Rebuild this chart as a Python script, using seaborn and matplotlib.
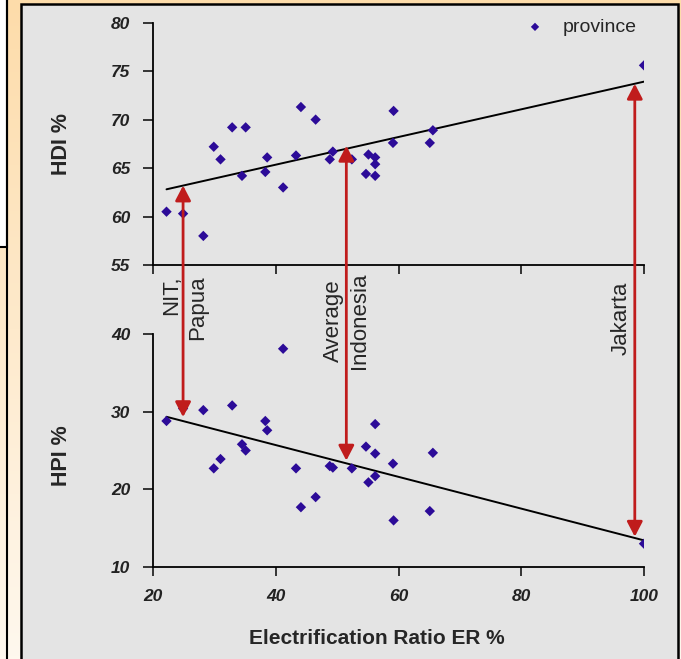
import numpy as np
import pandas as pd
import seaborn as sns
import matplotlib.pyplot as plt
import matplotlib.transforms as mtransforms
from matplotlib.patches import Rectangle, ConnectionPatch
from matplotlib.colors import LinearSegmentedColormap

# electrification ratio per province, HDI and HPI
er = [22.2, 24.9, 28.2, 29.9, 31.0, 32.9, 35.1, 34.5, 38.3, 38.6, 41.2, 43.3, 44.1, 46.5,
      48.8, 49.3, 52.4, 55.1, 56.2, 56.2, 54.7, 56.2, 59.2, 59.1, 65.6, 65.1, 100.0]
hdi = [60.5, 60.3, 58.0, 67.2, 65.9, 69.2, 69.2, 64.2, 64.6, 66.1, 63.0, 66.3, 71.3, 70.0,
       65.9, 66.7, 65.9, 66.4, 66.1, 65.4, 64.4, 64.2, 70.9, 67.6, 68.9, 67.6, 75.6]
hpi = [28.8, 30.4, 30.2, 22.7, 23.9, 30.8, 25.0, 25.8, 28.8, 27.6, 38.1, 22.7, 17.7, 19.0,
       23.0, 22.8, 22.7, 20.9, 28.4, 24.6, 25.5, 21.7, 16.0, 23.3, 24.7, 17.2, 13.0]

# annotated provinces (arrows go from HDI trend to HPI trend)
arrow_er = [24.9, 51.5, 98.5]
arrow_hdi = [63.2, 67.3, 73.7]
arrow_hpi = [29.3, 23.7, 13.9]
arrow_text = ["NIT,\nPapua", "Average\nIndonesia", "Jakarta"]
arrow_text_er = [25.2, 51.5, 96.3]
arrow_text_y = [1.114, 1.056, 1.069]

x_ticks = [20, 40, 60, 80, 100]
hdi_ticks = [55, 60, 65, 70, 75, 80]
hpi_ticks = [10, 20, 30, 40]

df = pd.DataFrame({"ER": er, "HDI": hdi, "HPI": hpi})

sns.set_style("ticks")
plt.rcParams['font.family'] = ['Liberation Sans', 'DejaVu Sans']

W, H = 681, 659
fig = plt.figure(figsize=(W / 100, H / 100), dpi=100)

# slide background: cream gradient, grey chart panel with black frame
bg = fig.add_axes([0, 0, 1, 1], zorder=-10)
cream = LinearSegmentedColormap.from_list("cream", ["#fddcaa", "#fff8ee"])
bg.imshow(np.linspace(0, 1, 200).reshape(-1, 1), cmap=cream, aspect='auto',
          extent=[0, W, H, 0])
bg.add_patch(Rectangle((-5, -5), 12, 252, fc='white', ec='black', lw=1.5))
bg.plot([7, 7], [0, H], color='black', lw=1.5)
bg.add_patch(Rectangle((21, 4), 657, 665, fc='#e4e4e4', ec='black', lw=1.8))
bg.set_xlim(0, W)
bg.set_ylim(H, 0)
bg.axis('off')

ax1 = fig.add_axes([153 / W, 1 - 265 / H, 491 / W, 242.3 / H])
ax2 = fig.add_axes([153 / W, 1 - 567 / H, 491 / W, 233 / H])

pt_color = "#2c0b98"
for ax, col, lims, ticks in ((ax1, "HDI", (55, 80), hdi_ticks), (ax2, "HPI", (10, 40), hpi_ticks)):
    ax.set_facecolor('none')
    sns.scatterplot(data=df, x="ER", y=col, ax=ax, marker='D', s=28, color=pt_color,
                    edgecolor='none', label="province" if col == "HDI" else None, zorder=3)
    sns.regplot(data=df, x="ER", y=col, ax=ax, scatter=False, ci=None, truncate=True,
                line_kws=dict(color='black', lw=1.4, zorder=2))
    ax.set_xlim(20, 100)
    ax.set_ylim(*lims)
    ax.set_xticks(x_ticks)
    ax.set_yticks(ticks)
    sns.despine(ax=ax)
    for s in ("left", "bottom"):
        ax.spines[s].set_linewidth(1.3)
        ax.spines[s].set_color('black')
    ax.tick_params(axis='y', direction='out', length=7.5, width=1.3, pad=9, labelsize=12.5)
    ax.tick_params(axis='x', direction='out', length=6.5, width=1.3, pad=9, labelsize=12.5)
    for lbl in ax.get_xticklabels() + ax.get_yticklabels():
        lbl.set_fontweight('bold')
        lbl.set_fontstyle('italic')
        lbl.set_color('#222222')

ax1.tick_params(labelbottom=False)
ax1.set_xlabel("")
ax1.set_ylabel("HDI %", fontsize=15.5, fontweight='bold')
ax2.set_ylabel("HPI %", fontsize=15.5, fontweight='bold')
ax1.yaxis.set_label_coords(-0.165, 0.5)
ax2.yaxis.set_label_coords(-0.165, 0.48)
ax2.set_xlabel("Electrification Ratio ER %", fontsize=15, fontweight='bold')
ax2.xaxis.set_label_coords(0.456, -0.265)

leg = ax1.legend(loc='upper right', bbox_to_anchor=(1.0, 1.05), frameon=False,
                 fontsize=14, handletextpad=0.4, borderaxespad=0, markerscale=0.8)

# red double arrows linking both panels
for x, a, b in zip(arrow_er, arrow_hdi, arrow_hpi):
    cp = ConnectionPatch(xyA=(x, a), coordsA=ax1.transData, xyB=(x, b), coordsB=ax2.transData,
                         arrowstyle='<|-|>,head_length=0.5,head_width=0.26', mutation_scale=18,
                         color='#c01c1c', lw=2.0, shrinkA=0, shrinkB=0, zorder=5)
    fig.add_artist(cp)

blend = mtransforms.blended_transform_factory(ax2.transData, ax2.transAxes)
for x, y, txt in zip(arrow_text_er, arrow_text_y, arrow_text):
    ax2.text(x, y, txt, transform=blend, rotation=90, ha='center', va='center',
             multialignment='right' if txt.startswith("NIT") else 'center',
             fontsize=16, linespacing=1.3, clip_on=False, zorder=6)

fig.savefig("out.png", dpi=100)
